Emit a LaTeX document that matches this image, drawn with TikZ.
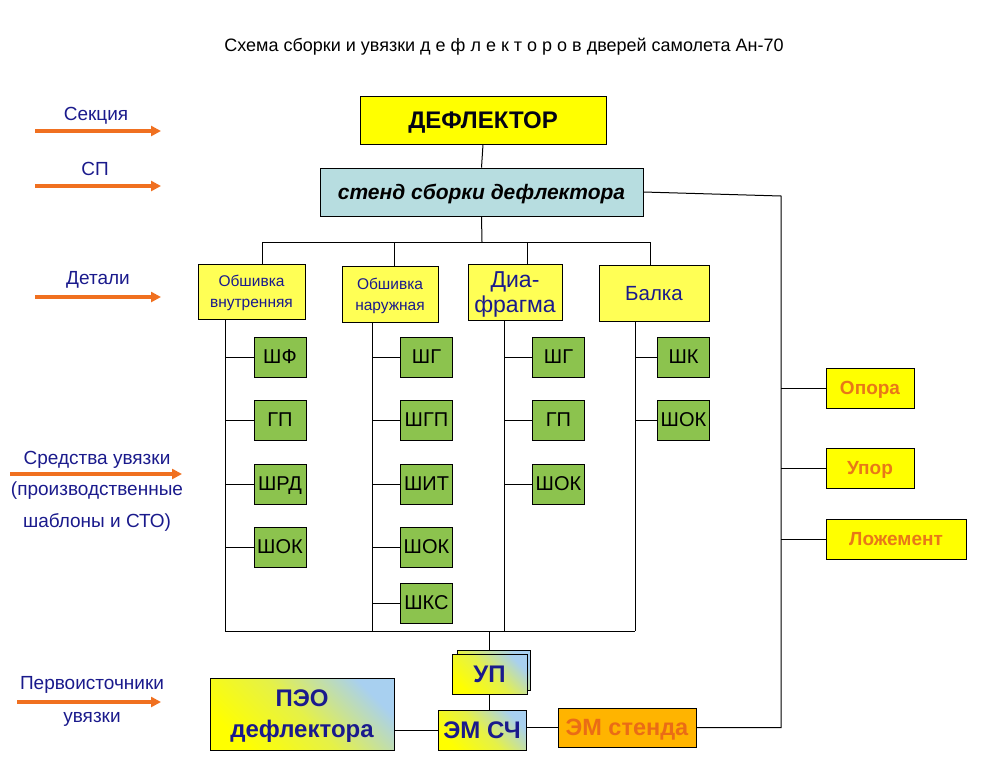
\documentclass[tikz,border=0pt]{standalone}
\usepackage{fontspec}
\setmainfont{Liberation Sans}
\usetikzlibrary{arrows.meta,shadings}
\definecolor{navy}{HTML}{1A1A8C}
\definecolor{arr}{HTML}{F07020}
\definecolor{yel}{HTML}{FFFF55}
\definecolor{yel2}{HTML}{FFFF00}
\definecolor{grn}{HTML}{8CC34E}
\definecolor{stendc}{HTML}{B7DDE0}
\definecolor{orng}{HTML}{E87818}
\definecolor{amber}{HTML}{FFB400}
\definecolor{ltblue}{HTML}{A8D0F0}
\begin{document}
\begin{tikzpicture}[x=1pt,y=-1pt,
  box/.style={draw=black,line width=0.9pt,inner sep=0pt,align=center,text depth=0pt},
  ybox/.style={box,fill=yel,text=navy},
  gbox/.style={box,fill=grn,minimum width=52pt,minimum height=40pt,font=\fontsize{20}{22}\selectfont},
  obox/.style={box,fill=yel2,text=orng,font=\bfseries\fontsize{19}{22}\selectfont,minimum height=40pt},
  gradbox/.style={box,top color=ltblue,bottom color=yel2,middle color=yel2!70!ltblue,shading angle=-45,text=navy,font=\bfseries\fontsize{24}{28}\selectfont},
  lbl/.style={text=navy,font=\fontsize{19}{21}\selectfont,inner sep=0pt},
  oarrow/.style={draw=arr,line width=3.4pt,-{Triangle[length=10pt,width=10pt]}},
  ln/.style={draw=black,line width=1pt}]
\useasboundingbox (0,0) rectangle (1008,756);

% title
\node[inner sep=0pt,font=\fontsize{18}{20}\selectfont] (title) at (504,47) {Схема сборки и увязки д е ф л е к т о р о в дверей самолета Ан-70};

% left labels and arrows
\node[lbl] (l1) at (96,116) {Секция};
\coordinate (a1s) at (35,131); \coordinate (a1e) at (161,131);
\draw[oarrow] (a1s) -- (a1e);
\node[lbl] (l2) at (95,169) {СП};
\coordinate (a2s) at (35,186); \coordinate (a2e) at (161,186);
\draw[oarrow] (a2s) -- (a2e);
\node[lbl] (l3) at (98,280) {Детали};
\coordinate (a3s) at (35,297); \coordinate (a3e) at (161,297);
\draw[oarrow] (a3s) -- (a3e);
\node[lbl] (l4) at (97,460) {Средства увязки};
\coordinate (a4s) at (10,474); \coordinate (a4e) at (182,474);
\draw[oarrow] (a4s) -- (a4e);
\node[lbl] (l5) at (97,491) {(производственные};
\node[lbl] (l6) at (97,522) {шаблоны и СТО)};
\node[lbl] (l7) at (92,685) {Первоисточники};
\coordinate (a5s) at (17,702); \coordinate (a5e) at (161,702);
\draw[oarrow] (a5s) -- (a5e);
\node[lbl] (l8) at (92,719) {увязки};

% top boxes
\node[box,fill=yel2,minimum width=246pt,minimum height=48pt,text=black!85!navy,font=\bfseries\fontsize{24}{26}\selectfont] (def) at (483,120) {ДЕФЛЕКТОР};
\node[box,fill=stendc,minimum width=323pt,minimum height=48pt,font=\bfseries\itshape\fontsize{21}{24}\selectfont] (stend) at (481.5,192) {стенд сборки дефлектора};
\draw[ln] (def.south) -- (stend.north);

% second level
\node[ybox,minimum width=107pt,minimum height=55pt,font=\fontsize{15.5}{21}\selectfont] (ob1) at (251.5,291.5) {Обшивка\\внутренняя};
\node[ybox,minimum width=96pt,minimum height=56pt,font=\fontsize{15.5}{21}\selectfont] (ob2) at (390,294) {Обшивка\\наружная};
\node[ybox,minimum width=94pt,minimum height=56pt,font=\fontsize{23}{25}\selectfont] (dia) at (515,292) {Диа-\\фрагма};
\node[ybox,minimum width=110pt,minimum height=56pt,font=\fontsize{20.5}{22}\selectfont] (balka) at (654,293) {Балка};

\coordinate (bus0) at (482,242);
\coordinate (b1) at (262,242); \coordinate (b2) at (394,242);
\coordinate (b3) at (527,242); \coordinate (b4) at (650,242);
\draw[ln] (stend.south) -- (bus0);
\draw[ln] (b1) -- (b4);
\draw[ln] (b1) -- (b1 |- ob1.north);
\draw[ln] (b2) -- (b2 |- ob2.north);
\draw[ln] (b3) -- (b3 |- dia.north);
\draw[ln] (b4) -- (b4 |- balka.north);

% column verticals
\coordinate (v1) at (225,631); \coordinate (v2) at (372,631);
\coordinate (v3) at (504,631); \coordinate (v4) at (635,631);
\draw[ln] (v1 |- ob1.south) -- (v1);
\draw[ln] (v2 |- ob2.south) -- (v2);
\draw[ln] (v3 |- dia.south) -- (v3);
\draw[ln] (v4 |- balka.south) -- (v4);
\draw[ln] (v1) -- (v4);

% green boxes
\node[gbox] (g11) at (280,357) {ШФ};
\node[gbox] (g12) at (280,420) {ГП};
\node[gbox] (g13) at (280,484) {ШРД};
\node[gbox] (g14) at (280,547) {ШОК};
\node[gbox] (g21) at (426.5,357) {ШГ};
\node[gbox] (g22) at (426.5,420) {ШГП};
\node[gbox] (g23) at (426.5,484) {ШИТ};
\node[gbox] (g24) at (426.5,547) {ШОК};
\node[gbox] (g25) at (426.5,603) {ШКС};
\node[gbox] (g31) at (558.5,357) {ШГ};
\node[gbox] (g32) at (558.5,420) {ГП};
\node[gbox] (g33) at (558.5,484) {ШОК};
\node[gbox] (g41) at (683.5,357) {ШК};
\node[gbox] (g42) at (683.5,420) {ШОК};
\foreach \g in {g11,g12,g13,g14} \draw[ln] (v1 |- \g.west) -- (\g.west);
\foreach \g in {g21,g22,g23,g24,g25} \draw[ln] (v2 |- \g.west) -- (\g.west);
\foreach \g in {g31,g32,g33} \draw[ln] (v3 |- \g.west) -- (\g.west);
\foreach \g in {g41,g42} \draw[ln] (v4 |- \g.west) -- (\g.west);

% bottom
\coordinate (bu) at (489,631);
\node[box,top color=ltblue,bottom color=yel2,shading angle=-45,minimum width=73pt,minimum height=40pt] (upb) at (493.5,670) {};
\node[gradbox,minimum width=75pt,minimum height=40pt] (up) at (489.5,674) {УП};
\node[gradbox,minimum width=88pt,minimum height=40pt] (emsc) at (482,730) {ЭМ СЧ};
\node[gradbox,minimum width=184pt,minimum height=72pt,font=\bfseries\fontsize{24}{31}\selectfont] (peo) at (302,714) {ПЭО\\дефлектора};
\node[box,fill=amber,text=orng!90!red,minimum width=138pt,minimum height=39pt,font=\bfseries\fontsize{23.5}{26}\selectfont] (emst) at (627,727.5) {ЭМ стенда};
\draw[ln] (bu) -- (bu |- upb.north);
\draw[ln] (bu |- up.south) -- (bu |- emsc.north);
\draw[ln] (peo.east |- emsc.west) -- (emsc.west);
\draw[ln] (emsc.east |- emst.west) -- (emst.west);

% right side
\coordinate (rt) at (781,196);
\coordinate (rb) at (781,727.5);
\node[obox,minimum width=88pt] (opora) at (870,388) {Опора};
\node[obox,minimum width=88pt] (upor) at (870,468) {Упор};
\node[obox,minimum width=140pt] (lozh) at (896,539) {Ложемент};
\draw[ln] (stend.east) -- (rt) -- (rb) -- (emst.east);
\draw[ln] (rt |- opora.west) -- (opora.west);
\draw[ln] (rt |- upor.west) -- (upor.west);
\draw[ln] (rt |- lozh.west) -- (lozh.west);
\end{tikzpicture}
\end{document}
